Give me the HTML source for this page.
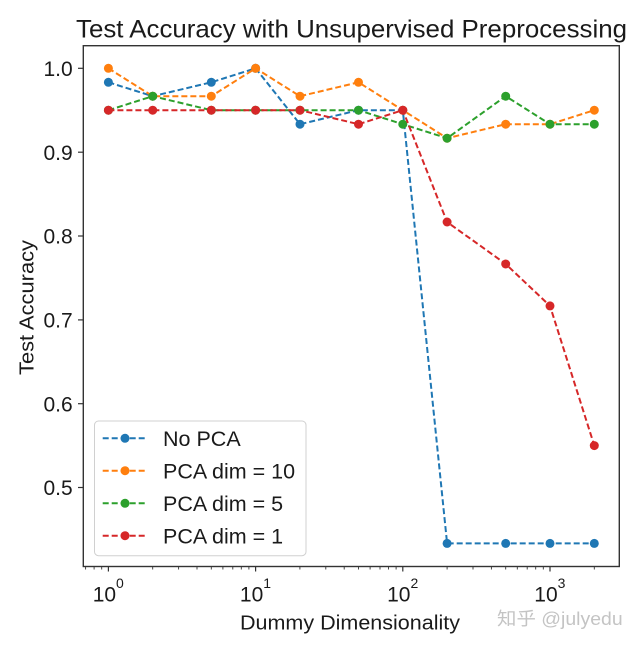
<!DOCTYPE html>
<html><head><meta charset="utf-8"><style>
html,body{margin:0;padding:0;background:#fff;}
svg{display:block;}
text{font-family:"Liberation Sans","Noto Sans CJK SC",sans-serif;fill:#1a1a1a;}
</style></head><body>
<svg width="640" height="646" viewBox="0 0 640 646" xmlns="http://www.w3.org/2000/svg">
<rect width="640" height="646" fill="#fff"/>
<!-- title -->
<text x="76" y="37.7" font-size="25" textLength="551" lengthAdjust="spacingAndGlyphs">Test Accuracy with Unsupervised Preprocessing</text>

<!-- series -->
<g fill="none" stroke-width="2" stroke-dasharray="6 3">
<polyline stroke="#1f77b4" points="108.4,82.3 152.7,96.2 211.3,82.3 255.6,68.3 300,124.2 358.5,110.2 402.8,110.2 447.1,543.4 505.7,543.4 550,543.4 594.3,543.4"/>
</g>
<g fill="#1f77b4">
<circle cx="108.4" cy="82.3" r="4.5"/><circle cx="152.7" cy="96.2" r="4.5"/><circle cx="211.3" cy="82.3" r="4.5"/><circle cx="255.6" cy="68.3" r="4.5"/><circle cx="300" cy="124.2" r="4.5"/><circle cx="358.5" cy="110.2" r="4.5"/><circle cx="402.8" cy="110.2" r="4.5"/><circle cx="447.1" cy="543.4" r="4.5"/><circle cx="505.7" cy="543.4" r="4.5"/><circle cx="550" cy="543.4" r="4.5"/><circle cx="594.3" cy="543.4" r="4.5"/>
</g>
<g fill="none" stroke-width="2" stroke-dasharray="6 3">
<polyline stroke="#ff7f0e" points="108.4,68.3 152.7,96.2 211.3,96.2 255.6,68.3 300,96.2 358.5,82.3 402.8,110.2 447.1,138.2 505.7,124.2 550,124.2 594.3,110.2"/>
</g>
<g fill="#ff7f0e">
<circle cx="108.4" cy="68.3" r="4.5"/><circle cx="152.7" cy="96.2" r="4.5"/><circle cx="211.3" cy="96.2" r="4.5"/><circle cx="255.6" cy="68.3" r="4.5"/><circle cx="300" cy="96.2" r="4.5"/><circle cx="358.5" cy="82.3" r="4.5"/><circle cx="402.8" cy="110.2" r="4.5"/><circle cx="447.1" cy="138.2" r="4.5"/><circle cx="505.7" cy="124.2" r="4.5"/><circle cx="550" cy="124.2" r="4.5"/><circle cx="594.3" cy="110.2" r="4.5"/>
</g>
<g fill="none" stroke-width="2" stroke-dasharray="6 3">
<polyline stroke="#2ca02c" points="108.4,110.2 152.7,96.2 211.3,110.2 255.6,110.2 300,110.2 358.5,110.2 402.8,124.2 447.1,138.2 505.7,96.2 550,124.2 594.3,124.2"/>
</g>
<g fill="#2ca02c">
<circle cx="108.4" cy="110.2" r="4.5"/><circle cx="152.7" cy="96.2" r="4.5"/><circle cx="211.3" cy="110.2" r="4.5"/><circle cx="255.6" cy="110.2" r="4.5"/><circle cx="300" cy="110.2" r="4.5"/><circle cx="358.5" cy="110.2" r="4.5"/><circle cx="402.8" cy="124.2" r="4.5"/><circle cx="447.1" cy="138.2" r="4.5"/><circle cx="505.7" cy="96.2" r="4.5"/><circle cx="550" cy="124.2" r="4.5"/><circle cx="594.3" cy="124.2" r="4.5"/>
</g>
<g fill="none" stroke-width="2" stroke-dasharray="6 3">
<polyline stroke="#d62728" points="108.4,110.2 152.7,110.2 211.3,110.2 255.6,110.2 300,110.2 358.5,124.2 402.8,110.2 447.1,222 505.7,264 550,305.9 594.3,445.6"/>
</g>
<g fill="#d62728">
<circle cx="108.4" cy="110.2" r="4.5"/><circle cx="152.7" cy="110.2" r="4.5"/><circle cx="211.3" cy="110.2" r="4.5"/><circle cx="255.6" cy="110.2" r="4.5"/><circle cx="300" cy="110.2" r="4.5"/><circle cx="358.5" cy="124.2" r="4.5"/><circle cx="402.8" cy="110.2" r="4.5"/><circle cx="447.1" cy="222" r="4.5"/><circle cx="505.7" cy="264" r="4.5"/><circle cx="550" cy="305.9" r="4.5"/><circle cx="594.3" cy="445.6" r="4.5"/>
</g>

<!-- axes frame -->
<rect x="83.3" y="45.7" width="536" height="520.8" fill="none" stroke="#333" stroke-width="1.4"/>

<!-- y ticks -->
<g stroke="#333" stroke-width="1.2">
<line x1="78" y1="68.3" x2="83.3" y2="68.3"/>
<line x1="78" y1="152.2" x2="83.3" y2="152.2"/>
<line x1="78" y1="236" x2="83.3" y2="236"/>
<line x1="78" y1="319.9" x2="83.3" y2="319.9"/>
<line x1="78" y1="403.7" x2="83.3" y2="403.7"/>
<line x1="78" y1="487.5" x2="83.3" y2="487.5"/>
</g>
<g font-size="21" text-anchor="end">
<text x="72.7" y="76">1.0</text>
<text x="72.7" y="159.9">0.9</text>
<text x="72.7" y="243.7">0.8</text>
<text x="72.7" y="327.6">0.7</text>
<text x="72.7" y="411.4">0.6</text>
<text x="72.7" y="495.2">0.5</text>
</g>

<!-- x ticks -->
<g stroke="#333" stroke-width="1.2">
<line x1="108.4" y1="566.5" x2="108.4" y2="571.5"/>
<line x1="255.6" y1="566.5" x2="255.6" y2="571.5"/>
<line x1="402.8" y1="566.5" x2="402.8" y2="571.5"/>
<line x1="550" y1="566.5" x2="550" y2="571.5"/>
</g>
<g stroke="#333" stroke-width="0.9">
<line x1="85.6" y1="566.5" x2="85.6" y2="569.5"/><line x1="94.1" y1="566.5" x2="94.1" y2="569.5"/><line x1="101.7" y1="566.5" x2="101.7" y2="569.5"/>
<line x1="152.7" y1="566.5" x2="152.7" y2="569.5"/><line x1="178.6" y1="566.5" x2="178.6" y2="569.5"/><line x1="197" y1="566.5" x2="197" y2="569.5"/><line x1="211.3" y1="566.5" x2="211.3" y2="569.5"/><line x1="222.9" y1="566.5" x2="222.9" y2="569.5"/><line x1="232.8" y1="566.5" x2="232.8" y2="569.5"/><line x1="241.3" y1="566.5" x2="241.3" y2="569.5"/><line x1="248.9" y1="566.5" x2="248.9" y2="569.5"/>
<line x1="299.9" y1="566.5" x2="299.9" y2="569.5"/><line x1="325.8" y1="566.5" x2="325.8" y2="569.5"/><line x1="344.2" y1="566.5" x2="344.2" y2="569.5"/><line x1="358.5" y1="566.5" x2="358.5" y2="569.5"/><line x1="370.1" y1="566.5" x2="370.1" y2="569.5"/><line x1="380" y1="566.5" x2="380" y2="569.5"/><line x1="388.5" y1="566.5" x2="388.5" y2="569.5"/><line x1="396.1" y1="566.5" x2="396.1" y2="569.5"/>
<line x1="447.1" y1="566.5" x2="447.1" y2="569.5"/><line x1="473" y1="566.5" x2="473" y2="569.5"/><line x1="491.4" y1="566.5" x2="491.4" y2="569.5"/><line x1="505.7" y1="566.5" x2="505.7" y2="569.5"/><line x1="517.3" y1="566.5" x2="517.3" y2="569.5"/><line x1="527.2" y1="566.5" x2="527.2" y2="569.5"/><line x1="535.7" y1="566.5" x2="535.7" y2="569.5"/><line x1="543.3" y1="566.5" x2="543.3" y2="569.5"/>
<line x1="594.3" y1="566.5" x2="594.3" y2="569.5"/>
</g>
<g font-size="21">
<text x="92.7" y="601.7">10<tspan font-size="14" dy="-13.5">0</tspan></text>
<text x="239.9" y="601.7">10<tspan font-size="14" dy="-13.5">1</tspan></text>
<text x="387.1" y="601.7">10<tspan font-size="14" dy="-13.5">2</tspan></text>
<text x="534.3" y="601.7">10<tspan font-size="14" dy="-13.5">3</tspan></text>
</g>

<!-- axis labels -->
<text x="240" y="629.5" font-size="20" textLength="220" lengthAdjust="spacingAndGlyphs">Dummy Dimensionality</text>
<text transform="translate(33.3,375) rotate(-90)" x="0" y="0" font-size="20.5" textLength="135" lengthAdjust="spacingAndGlyphs">Test Accuracy</text>

<!-- legend -->
<rect x="94.5" y="421" width="211.5" height="134.7" rx="4" ry="4" fill="#fff" fill-opacity="0.85" stroke="#d0d0d0" stroke-width="1"/>
<g stroke-width="2" stroke-dasharray="6 3" fill="none">
<line x1="102.7" y1="438.3" x2="146.7" y2="438.3" stroke="#1f77b4"/>
<line x1="102.7" y1="470.7" x2="146.7" y2="470.7" stroke="#ff7f0e"/>
<line x1="102.7" y1="503.3" x2="146.7" y2="503.3" stroke="#2ca02c"/>
<line x1="102.7" y1="535.7" x2="146.7" y2="535.7" stroke="#d62728"/>
</g>
<circle cx="125" cy="438.3" r="4.5" fill="#1f77b4"/>
<circle cx="125" cy="470.7" r="4.5" fill="#ff7f0e"/>
<circle cx="125" cy="503.3" r="4.5" fill="#2ca02c"/>
<circle cx="125" cy="535.7" r="4.5" fill="#d62728"/>
<g font-size="21.5">
<text x="163" y="446">No PCA</text>
<text x="163" y="478.5">PCA dim = 10</text>
<text x="163" y="511">PCA dim = 5</text>
<text x="163" y="543.5">PCA dim = 1</text>
</g>

<!-- watermark -->
<text x="497" y="625" font-size="18" textLength="125.7" lengthAdjust="spacingAndGlyphs" style="fill:#c4c4c4">知乎 @julyedu</text>
</svg>
</body></html>
